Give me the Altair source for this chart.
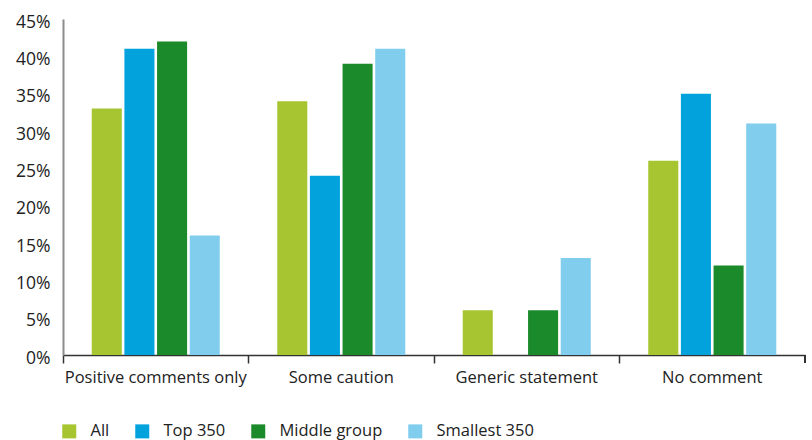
import altair as alt
import pandas as pd

categories = ["Positive comments only", "Some caution", "Generic statement", "No comment"]
series = ["All", "Top 350", "Middle group", "Smallest 350"]
colors = ["#a6c530", "#02a3dd", "#1b8a2b", "#80cdee"]
values = {
    "All": [33, 34, 6, 26],
    "Top 350": [41, 24, 0, 35],
    "Middle group": [42, 39, 6, 12],
    "Smallest 350": [16, 41, 13, 31],
}
y_ticks = [0, 5, 10, 15, 20, 25, 30, 35, 40, 45]

rows = []
for s in series:
    for c, v in zip(categories, values[s]):
        rows.append({"category": c, "series": s, "value": v})
df = pd.DataFrame(rows)

FONT = "Open Sans"
W, H = 742, 336

bars = alt.Chart(df).mark_bar().encode(
    x=alt.X("category:N", sort=categories, title=None,
            scale=alt.Scale(paddingInner=0, paddingOuter=0),
            axis=alt.Axis(labelAngle=0, bandPosition=0, domainColor="#333333",
                          domainWidth=1.5, tickColor="#333333", tickWidth=1.5,
                          tickSize=8, labelPadding=6, labelFontSize=16.5,
                          labelLimit=400, labelOverlap=False,
                          labelColor="#222222", labelFont=FONT, grid=False)),
    xOffset=alt.XOffset("series:N", sort=series,
                        scale=alt.Scale(paddingInner=0.08, paddingOuter=0.88)),
    y=alt.Y("value:Q", title=None,
            scale=alt.Scale(domain=[0, 45], nice=False),
            axis=alt.Axis(values=y_ticks, labelExpr="datum.value + '%'",
                          grid=False, ticks=False, domainColor="#8c8c8c",
                          domainWidth=2, labelPadding=13, labelFontSize=17.5,
                          labelColor="#222222", labelFont=FONT, labelOffset=3)),
    color=alt.Color("series:N", sort=series, title=None,
                    scale=alt.Scale(domain=series, range=colors),
                    legend=alt.Legend(orient="none", legendX=-2, legendY=404,
                                      direction="horizontal", symbolType="square",
                                      symbolSize=196, symbolStrokeWidth=0,
                                      labelFontSize=16.5, labelFont=FONT,
                                      labelColor="#222222", labelOffset=13,
                                      columnPadding=24)),
)

end_tick = alt.Chart(df).mark_rule(color="#333333", strokeWidth=1.5).encode(
    x=alt.value(W), y=alt.value(H), y2=alt.value(H + 8)
)

chart = alt.layer(bars, end_tick).properties(
    width=W, height=H,
    autosize=alt.AutoSizeParams(type="none"),
    padding={"left": 63, "top": 19, "right": 7, "bottom": 85},
).configure_view(stroke=None)

chart.save("out.html", embed_options={"renderer": "svg", "actions": False})
